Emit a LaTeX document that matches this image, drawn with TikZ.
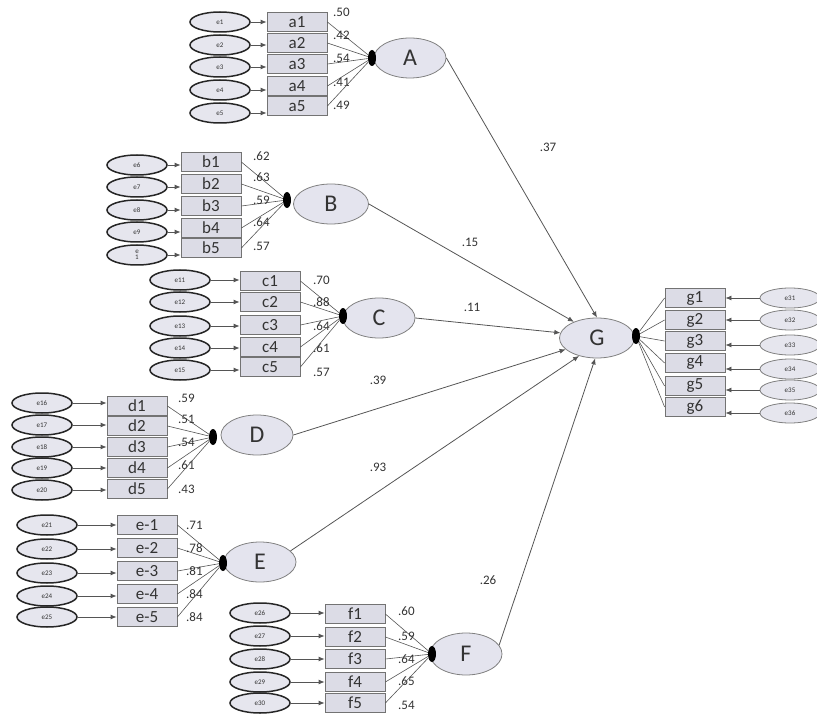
\documentclass[tikz,border=0pt]{standalone}
\usepackage{fontspec}
\setmainfont{Carlito}
\usetikzlibrary{shapes.geometric,arrows.meta}
\definecolor{latfill}{HTML}{E4E4EE}
\definecolor{boxfill}{HTML}{DCDCE6}
\definecolor{errfill}{HTML}{E6E6EE}
\definecolor{ln}{HTML}{555555}
\definecolor{txt}{HTML}{333333}
\tikzset{
  errnode/.style={ellipse,draw=black!85,line width=1.5pt,fill=errfill,minimum width=60pt,minimum height=20pt,inner sep=0pt,font=\fontsize{7}{6}\selectfont,text=txt,align=center},
  gerr/.style={ellipse,draw=black!50,line width=0.8pt,fill=errfill,minimum width=60pt,minimum height=20pt,inner sep=0pt,font=\fontsize{7}{7}\selectfont,text=txt},
  obs/.style={rectangle,draw=black!55,line width=0.8pt,fill=boxfill,minimum width=60pt,minimum height=19pt,inner sep=0pt,font=\fontsize{17}{17}\selectfont,text=txt},
  lat/.style={ellipse,draw=black!50,line width=0.8pt,fill=latfill,minimum width=72pt,minimum height=40pt,inner sep=0pt,font=\fontsize{24}{24}\selectfont,text=txt},
  dotnode/.style={ellipse,fill=black,minimum width=8pt,minimum height=16pt,inner sep=0pt},
  lod/.style={anchor=west,font=\fontsize{13}{13}\selectfont,text=txt,inner sep=0pt},
  plab/.style={font=\fontsize{13}{13}\selectfont,text=txt,inner sep=0pt},
  arr/.style={draw=ln,line width=0.8pt,-{Latex[length=6pt,width=5pt]}},
  ld/.style={draw=ln,line width=0.6pt},
}
\begin{document}
\begin{tikzpicture}[x=1pt,y=-1pt]
\useasboundingbox (0,0) rectangle (817,714);
% ---------- A ----------
\node[lat] (A) at (410,58) {A};
\node[dotnode] (dA) at (372,58) {};
\foreach \i/\ey/\el/\by/\bl/\ly/\lv in {1/22/e1/22/a1/12/.50,2/45/e2/43/a2/35/.42,3/67/e3/64/a3/58/.54,4/90/e4/86/a4/82/.41,5/113/e5/106/a5/105/.49}{
  \node[errnode] (eA\i) at (220,\ey) {\el};
  \node[obs] (bA\i) at (297,\by) {\bl};
  \draw[arr] (eA\i.east) -- (eA\i.east -| bA\i.west);
  \draw[ld] (bA\i.east) -- (dA);
  \node[lod] (lA\i) at (333,\ly) {\lv};
}
% ---------- B ----------
\node[lat,minimum width=75pt] (B) at (331,204) {B};
\node[dotnode] (dB) at (287,200) {};
\foreach \i/\ey/\el/\by/\bl/\ly/\lv in {1/165/e6/162/b1/156/.62,2/187/e7/184/b2/177/.63,3/210/e8/206/b3/200/.59,4/232/e9/228/b4/222/.64,5/255/{e\\1}/248/b5/246/.57}{
  \node[errnode] (eB\i) at (137,\ey) {\el};
  \node[obs] (bB\i) at (211,\by) {\bl};
  \draw[arr] (eB\i.east) -- (eB\i.east -| bB\i.west);
  \draw[ld] (bB\i.east) -- (dB);
  \node[lod] (lB\i) at (253,\ly) {\lv};
}
% ---------- C ----------
\node[lat] (C) at (379,318) {C};
\node[dotnode] (dC) at (343,316) {};
\foreach \i/\ey/\el/\by/\bl/\ly/\lv in {1/280/e11/281/c1/280/.70,2/302/e12/302/c2/302/.88,3/326/e13/325/c3/326/.64,4/348/e14/347/c4/348/.61,5/370/e15/367/c5/372/.57}{
  \node[errnode] (eC\i) at (180,\ey) {\el};
  \node[obs] (bC\i) at (270,\by) {\bl};
  \draw[arr] (eC\i.east) -- (eC\i.east -| bC\i.west);
  \draw[ld] (bC\i.east) -- (dC);
  \node[lod] (lC\i) at (313,\ly) {\lv};
}
% ---------- D ----------
\node[lat] (D) at (257,435) {D};
\node[dotnode] (dD) at (213,437) {};
\foreach \i/\ey/\el/\by/\bl/\ly/\lv in {1/403/e16/406/d1/398/.59,2/425/e17/426/d2/419/.51,3/447/e18/447/d3/442/.54,4/468/e19/468/d4/465/.61,5/490/e20/489/d5/489/.43}{
  \node[errnode] (eD\i) at (42,\ey) {\el};
  \node[obs] (bD\i) at (137,\by) {\bl};
  \draw[arr] (eD\i.east) -- (eD\i.east -| bD\i.west);
  \draw[ld] (bD\i.east) -- (dD);
  \node[lod] (lD\i) at (178,\ly) {\lv};
}
% ---------- E ----------
\node[lat] (E) at (260,562) {E};
\node[dotnode] (dE) at (223,563) {};
\foreach \i/\ey/\el/\by/\bl/\ly/\lv in {1/525/e21/525/e-1/525/.71,2/549/e22/548/e-2/548/.78,3/573/e23/571/e-3/571/.81,4/596/e24/594/e-4/594/.84,5/617/e25/617/e-5/617/.84}{
  \node[errnode] (eE\i) at (47,\ey) {\el};
  \node[obs] (bE\i) at (147,\by) {\bl};
  \draw[arr] (eE\i.east) -- (eE\i.east -| bE\i.west);
  \draw[ld] (bE\i.east) -- (dE);
  \node[lod] (lE\i) at (186,\ly) {\lv};
}
% ---------- F ----------
\node[lat,minimum height=42pt] (F) at (466,654) {F};
\node[dotnode] (dF) at (432,654) {};
\foreach \i/\ey/\el/\by/\bl/\ly/\lv in {1/613/e26/614/f1/611/.60,2/636/e27/637/f2/636/.59,3/659/e28/659/f3/659/.64,4/682/e29/682/f4/681/.65,5/703/e30/703/f5/705/.54}{
  \node[errnode] (eF\i) at (260,\ey) {\el};
  \node[obs] (bF\i) at (355,\by) {\bl};
  \draw[arr] (eF\i.east) -- (eF\i.east -| bF\i.west);
  \draw[ld] (bF\i.east) -- (dF);
  \node[lod] (lF\i) at (398,\ly) {\lv};
}
% ---------- G ----------
\node[lat,minimum width=75pt] (G) at (597,338) {G};
\node[dotnode] (dG) at (636,336) {};
\foreach \i/\ey/\el/\by/\bl in {1/298/e31/298/g1,2/320/e32/320/g2,3/345/e33/341/g3,4/369/e34/363/g4,5/390/e35/386/g5,6/413/e36/407/g6}{
  \node[gerr] (eG\i) at (790,\ey) {\el};
  \node[obs] (bG\i) at (695,\by) {\bl};
  \draw[arr] (eG\i.west) -- (eG\i.west -| bG\i.east);
  \draw[ld] (dG) -- (bG\i.west);
}
% ---------- structural paths ----------
\draw[arr] (A.east) -- (G.north);
\draw[arr] (B.east) -- (G.145);
\draw[arr] (C.east) -- (G.172);
\draw[arr] (D.east) -- (G.200);
\draw[arr] (E.20) -- (G.225);
\draw[arr] (F.15) -- (G.265);
\node[plab] (pA) at (548,147) {.37};
\node[plab] (pB) at (470,242) {.15};
\node[plab] (pC) at (472,307) {.11};
\node[plab] (pD) at (378,380) {.39};
\node[plab] (pE) at (378,467) {.93};
\node[plab] (pF) at (488,580) {.26};
\end{tikzpicture}
\end{document}
